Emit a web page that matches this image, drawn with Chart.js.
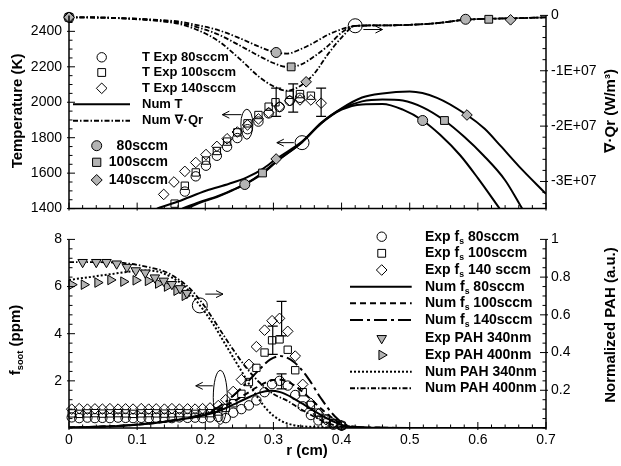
<!DOCTYPE html>
<html lang="en">
<head>
<meta charset="utf-8">
<title>Flame temperature, radiation, soot and PAH profiles</title>
<script src="https://cdn.jsdelivr.net/npm/chart.js@4.4.1/dist/chart.umd.min.js"></script>
<style>
  html, body { margin: 0; padding: 0; background: #fff; }
  #page { position: relative; width: 621px; height: 466px; }
  .panel { position: absolute; left: 0; width: 621px; }
  #upper { top: 0; height: 224px; }
  #lower { top: 224px; height: 242px; }
</style>
</head>
<body>
<div id="page">
  <div class="panel" id="upper"><canvas id="tempChart"></canvas></div>
  <div class="panel" id="lower"><canvas id="sootChart"></canvas></div>
</div>
<script>
const FONT = '"Liberation Sans", Arial, "DejaVu Sans", sans-serif';
const GREY = '#b4b4b4';
const NONE = 'rgba(0,0,0,0)';

// ---------- upper panel: temperature (left) and div of radiative flux (right) ----------
const tExpR80  = [0.170, 0.186, 0.201, 0.217, 0.232, 0.247, 0.262, 0.278, 0.293, 0.309, 0.324, 0.339];
const tExp80   = [1496, 1582, 1642, 1698, 1749, 1798, 1848, 1891, 1937, 1973, 2008, 2025];
const tExpR100 = [0.155, 0.170, 0.186, 0.201, 0.217, 0.232, 0.247, 0.262, 0.278, 0.293, 0.303, 0.324, 0.339, 0.355];
const tExp100  = [1428, 1529, 1604, 1671, 1725, 1778, 1830, 1881, 1928, 1975, 2000, 2042, 2046, 2037];
const tExpR140 = [0.139, 0.154, 0.170, 0.186, 0.201, 0.217, 0.232, 0.247, 0.262, 0.278, 0.293, 0.309, 0.324, 0.339, 0.355, 0.370];
const tExp140  = [1480, 1550, 1610, 1660, 1705, 1751, 1794, 1832, 1872, 1906, 1942, 1975, 2009, 2013, 2013, 1995];

// measurement uncertainty on a few temperature points
const tErrR   = [0.304, 0.329, 0.370];
const tErrMid = [2000, 2024, 2000];
const tErrHalf = [80, 80, 80];

const tNumR80  = [0.172, 0.19, 0.217, 0.24, 0.258, 0.285, 0.305, 0.342, 0.37, 0.40, 0.43, 0.46, 0.49, 0.519, 0.545, 0.574, 0.60, 0.632];
const tNum80   = [1400, 1430, 1465, 1503, 1536, 1600, 1666, 1775, 1880, 1958, 1988, 1990, 1958, 1897, 1815, 1701, 1572, 1400];
const tNumR100 = [0.166, 0.19, 0.217, 0.24, 0.26, 0.284, 0.305, 0.342, 0.37, 0.40, 0.43, 0.46, 0.49, 0.52, 0.551, 0.58, 0.608, 0.64, 0.665];
const tNum100  = [1400, 1435, 1469, 1506, 1541, 1602, 1669, 1775, 1882, 1962, 2005, 2016, 2010, 1970, 1897, 1805, 1701, 1560, 1400];
const tNumR140 = [0.129, 0.16, 0.202, 0.235, 0.261, 0.285, 0.305, 0.342, 0.37, 0.40, 0.43, 0.46, 0.50, 0.54, 0.584, 0.61, 0.633, 0.66, 0.70];
const tNum140  = [1400, 1440, 1502, 1540, 1576, 1626, 1683, 1778, 1884, 1966, 2027, 2050, 2060, 2025, 1928, 1850, 1755, 1640, 1483];

const qrR     = [0, 0.05, 0.1, 0.13, 0.16, 0.19, 0.22, 0.25, 0.28, 0.30, 0.32, 0.34, 0.36, 0.38, 0.40, 0.42, 0.46, 0.50, 0.54, 0.56, 0.58, 0.62, 0.66, 0.70];
const qrNum80  = [-3.5e5, -4e5, -6e5, -8e5, -1.1e6, -1.8e6, -2.7e6, -4.1e6, -5.7e6, -6.6e6, -6.9e6, -6.1e6, -4.9e6, -3.5e6, -2.5e6, -1.9e6, -1.8e6, -1.7e6, -1.4e6, -1.1e6, -8e5, -6e5, -5e5, -3.5e5];
const qrNum100 = [-3.5e5, -4e5, -6.5e5, -9e5, -1.3e6, -2.2e6, -3.5e6, -5.4e6, -7.4e6, -8.6e6, -9.3e6, -8.9e6, -7.4e6, -5.5e6, -3.1e6, -1.9e6, -1.8e6, -1.7e6, -1.4e6, -1.1e6, -8e5, -6e5, -5e5, -3.5e5];
const qrNum140 = [-3.5e5, -4e5, -7e5, -1e6, -1.5e6, -2.7e6, -4.7e6, -7.8e6, -1.12e7, -1.28e7, -1.36e7, -1.27e7, -1.05e7, -7e6, -4e6, -1.9e6, -1.8e6, -1.7e6, -1.4e6, -1.1e6, -8e5, -6e5, -5e5, -3.5e5];

// grey symbols identifying each flow rate on the computed curves
const tTagR80 = [0.258, 0.519],  tTag80 = [1536, 1897];
const tTagR100 = [0.284, 0.551], tTag100 = [1601, 1897];
const tTagR140 = [0.304, 0.584], tTag140 = [1680, 1928];
const qrTagR80 = [0, 0.304, 0.582],  qrTag80 = [-3.5e5, -6.7e6, -7e5];
const qrTagR100 = [0, 0.326, 0.616], qrTag100 = [-3.5e5, -9.3e6, -7e5];
const qrTagR140 = [0, 0.348, 0.648], qrTag140 = [-3.5e5, -1.2e7, -8e5];

const tempTicks = [1400, 1600, 1800, 2000, 2200, 2400];
const qrTicks = [0, -1e7, -2e7, -3e7];
const qrTickLabels = ['0', '-1E+07', '-2E+07', '-3E+07'];

// ---------- lower panel: soot volume fraction (left) and PAH (right) ----------
const fsExpR = [0.004, 0.015, 0.027, 0.038, 0.049, 0.060, 0.072, 0.083, 0.094, 0.106, 0.117, 0.128, 0.140, 0.151, 0.162, 0.174, 0.185, 0.196,
                0.207, 0.219, 0.230, 0.241, 0.253, 0.264, 0.275, 0.287, 0.298, 0.309, 0.321, 0.332, 0.343, 0.355, 0.366, 0.377, 0.388, 0.400];
const fsExp80  = [0.45, 0.42, 0.44, 0.42, 0.43, 0.42, 0.44, 0.43, 0.42, 0.43, 0.42, 0.44, 0.43, 0.42, 0.45, 0.43, 0.44, 0.42,
                  0.45, 0.47, 0.42, 0.65, 0.80, 0.96, 1.17, 1.52, 1.86, 2.00, 1.80, 1.40, 0.92, 0.55, 0.32, 0.20, 0.14, 0.10];
const fsExp100 = [0.62, 0.60, 0.62, 0.63, 0.61, 0.62, 0.63, 0.62, 0.60, 0.62, 0.63, 0.62, 0.61, 0.62, 0.63, 0.62, 0.60, 0.62,
                  0.63, 0.70, 0.85, 1.05, 1.45, 1.95, 2.55, 3.20, 3.72, 3.76, 3.32, 2.45, 1.52, 0.98, 0.65, 0.40, 0.20, 0.10];
const fsExp140 = [0.80, 0.82, 0.80, 0.81, 0.80, 0.82, 0.80, 0.81, 0.80, 0.82, 0.80, 0.81, 0.80, 0.82, 0.80, 0.81, 0.80, 0.82,
                  0.85, 0.95, 1.20, 1.55, 2.05, 2.70, 3.45, 4.15, 4.55, 4.65, 4.10, 3.05, 1.85, 1.05, 0.60, 0.35, 0.20, 0.10];

const fsErrR    = [0.299, 0.312, 0.312];
const fsErrMid  = [3.72, 4.64, 1.98];
const fsErrHalf = [0.60, 0.73, 0.32];

const fsNumR   = [0, 0.05, 0.1, 0.15, 0.2, 0.22, 0.24, 0.26, 0.28, 0.295, 0.31, 0.33, 0.35, 0.37, 0.39, 0.41, 0.45, 0.5, 0.7];
const fsNum80  = [0.02, 0.06, 0.14, 0.30, 0.55, 0.72, 0.98, 1.25, 1.50, 1.58, 1.52, 1.25, 0.90, 0.55, 0.25, 0.05, 0.01, 0, 0];
const fsNum100 = [0.02, 0.06, 0.14, 0.30, 0.58, 0.80, 1.10, 1.45, 1.80, 2.00, 2.05, 1.82, 1.35, 0.82, 0.35, 0.07, 0.01, 0, 0];
const fsNum140 = [0.02, 0.06, 0.15, 0.32, 0.62, 0.90, 1.35, 1.90, 2.50, 2.90, 3.05, 2.80, 2.15, 1.25, 0.50, 0.10, 0.02, 0, 0];

const pahExpR340 = [0.020, 0.040, 0.055, 0.070, 0.085, 0.098, 0.112, 0.126, 0.139, 0.151, 0.163, 0.173];
const pahExp340  = [0.879, 0.879, 0.879, 0.871, 0.853, 0.835, 0.823, 0.797, 0.780, 0.762, 0.740, 0.715];
const pahExpR400 = [0.004, 0.022, 0.042, 0.061, 0.080, 0.098, 0.116, 0.131, 0.144, 0.158, 0.170];
const pahExp400  = [0.760, 0.760, 0.771, 0.785, 0.776, 0.783, 0.780, 0.766, 0.750, 0.728, 0.701];

const pahNumR340 = [0, 0.03, 0.06, 0.09, 0.11, 0.13, 0.15, 0.17, 0.19, 0.21, 0.23, 0.25, 0.27, 0.29, 0.31, 0.33, 0.36, 0.40, 0.45, 0.70];
const pahNum340  = [0.785, 0.80, 0.815, 0.83, 0.835, 0.83, 0.80, 0.75, 0.66, 0.56, 0.44, 0.32, 0.20, 0.10, 0.04, 0.015, 0.005, 0.002, 0, 0];
const pahNumR400 = [0, 0.03, 0.06, 0.08, 0.10, 0.12, 0.14, 0.16, 0.18, 0.20, 0.22, 0.24, 0.26, 0.28, 0.30, 0.32, 0.34, 0.36, 0.38, 0.40, 0.45, 0.70];
const pahNum400  = [0.88, 0.88, 0.878, 0.875, 0.865, 0.85, 0.83, 0.79, 0.73, 0.64, 0.53, 0.42, 0.32, 0.24, 0.18, 0.145, 0.10, 0.06, 0.025, 0.007, 0, 0];

const rTicks = [0, 0.1, 0.2, 0.3, 0.4, 0.5, 0.6, 0.7];
const rTickLabels = ['0', '0.1', '0.2', '0.3', '0.4', '0.5', '0.6', '0.7'];
const fsTicks = [2, 4, 6, 8];
const fsTickLabels = ['2', '4', '6', '8'];
const pahTicks = [0.2, 0.4, 0.6, 0.8, 1];
const pahTickLabels = ['0.2', '0.4', '0.6', '0.8', '1'];

// ---------- helpers ----------
Chart.defaults.font.family = FONT;
Chart.defaults.color = '#000';

function pts(xs, ys) {
  return xs.map((x, i) => ({ x: x, y: ys[i] }));
}

function curve(xs, ys, axis, dash, width) {
  return {
    data: pts(xs, ys), yAxisID: axis, showLine: true, borderColor: '#000',
    borderWidth: width || 2, borderDash: dash || [], pointRadius: 0,
    cubicInterpolationMode: 'monotone', fill: false
  };
}

function marks(xs, ys, axis, style, radius, fill, rotation) {
  return {
    data: pts(xs, ys), yAxisID: axis, showLine: false, pointStyle: style,
    pointRadius: radius, pointBackgroundColor: fill, pointBorderColor: '#000',
    pointBorderWidth: 1, pointRotation: rotation || 0, clip: 12
  };
}

function valueScale(pos, min, max, vals, labels, width, pad) {
  return {
    type: 'linear', position: pos, min: min, max: max,
    grid: { display: false, drawTicks: false },
    border: { display: false },
    afterBuildTicks: s => { s.ticks = vals.map(v => ({ value: v })); },
    afterFit: s => { s.width = width; },
    ticks: {
      autoSkip: false, padding: pad, color: '#000', font: { size: 14 },
      callback: v => { const i = vals.findIndex(t => Math.abs(t - v) < 1e-9 * (Math.abs(t) + 1)); return i < 0 ? '' : labels[i]; }
    }
  };
}

function richWidth(ctx, parts, size) {
  let w = 0;
  parts.forEach(p => {
    ctx.font = 'bold ' + (p.sub ? size * 0.62 : size) + 'px ' + FONT;
    w += ctx.measureText(p.t).width;
  });
  return w;
}

function drawRich(ctx, parts, x, y, size) {
  let cx = x;
  ctx.textAlign = 'left';
  ctx.textBaseline = 'middle';
  parts.forEach(p => {
    ctx.font = 'bold ' + (p.sub ? size * 0.62 : size) + 'px ' + FONT;
    ctx.fillText(p.t, cx, p.sub ? y + size * 0.32 : y);
    cx += ctx.measureText(p.t).width;
  });
}

function drawMarker(ctx, kind, x, y, r, fill) {
  ctx.beginPath();
  if (kind === 'circle') {
    ctx.arc(x, y, r, 0, Math.PI * 2);
  } else if (kind === 'rect') {
    const s = r * 0.75;
    ctx.rect(x - s, y - s, 2 * s, 2 * s);
  } else if (kind === 'diamond') {
    ctx.moveTo(x, y - r); ctx.lineTo(x + r, y); ctx.lineTo(x, y + r); ctx.lineTo(x - r, y); ctx.closePath();
  } else if (kind === 'triDown') {
    ctx.moveTo(x - r * 0.87, y - r * 0.5); ctx.lineTo(x + r * 0.87, y - r * 0.5); ctx.lineTo(x, y + r); ctx.closePath();
  } else if (kind === 'triRight') {
    ctx.moveTo(x - r * 0.5, y - r * 0.87); ctx.lineTo(x + r, y); ctx.lineTo(x - r * 0.5, y + r * 0.87); ctx.closePath();
  }
  if (fill) { ctx.fillStyle = fill; ctx.fill(); }
  ctx.lineWidth = 1;
  ctx.strokeStyle = '#000';
  ctx.stroke();
}

function arrow(ctx, x1, y, x2) {
  const dir = x2 > x1 ? 1 : -1;
  ctx.beginPath();
  ctx.moveTo(x1, y); ctx.lineTo(x2, y);
  ctx.moveTo(x2 - dir * 7, y - 3.5); ctx.lineTo(x2, y); ctx.lineTo(x2 - dir * 7, y + 3.5);
  ctx.stroke();
}

// frame, inward ticks, titles, legend, error bars and call-outs for one panel
function makeDecor(cfg) {
  return {
    id: 'panelDecor',
    afterDatasetsDraw(chart) {
      const ctx = chart.ctx, a = chart.chartArea, xs = chart.scales.x;
      ctx.save();
      ctx.strokeStyle = '#000';
      ctx.fillStyle = '#000';

      // error bars
      cfg.errorBars.forEach(eb => {
        const ys = chart.scales[eb.axis];
        ctx.lineWidth = 1.2;
        eb.r.forEach((r, i) => {
          const px = xs.getPixelForValue(r);
          const y1 = ys.getPixelForValue(eb.mid[i] - eb.half[i]);
          const y2 = ys.getPixelForValue(eb.mid[i] + eb.half[i]);
          ctx.beginPath();
          ctx.moveTo(px, y1); ctx.lineTo(px, y2);
          ctx.moveTo(px - 5, y1); ctx.lineTo(px + 5, y1);
          ctx.moveTo(px - 5, y2); ctx.lineTo(px + 5, y2);
          ctx.stroke();
        });
      });

      // call-outs: ellipses / circles with arrows pointing to the relevant axis
      ctx.lineWidth = 1;
      cfg.notes.forEach(n => {
        const ys = chart.scales[n.axis];
        if (n.type === 'arrow') {
          arrow(ctx, xs.getPixelForValue(n.x1), ys.getPixelForValue(n.y), xs.getPixelForValue(n.x2));
        } else {
          ctx.beginPath();
          ctx.ellipse(xs.getPixelForValue(n.x), ys.getPixelForValue(n.y), n.rx, n.ry, 0, 0, Math.PI * 2);
          ctx.stroke();
        }
      });

      // axis frame (no top border)
      ctx.lineWidth = 1.5;
      ctx.beginPath();
      ctx.moveTo(a.left, a.top); ctx.lineTo(a.left, a.bottom); ctx.lineTo(a.right, a.bottom); ctx.lineTo(a.right, a.top);
      ctx.stroke();

      // inward major / minor ticks
      ctx.lineWidth = 1;
      cfg.ticks.forEach(t => {
        const s = chart.scales[t.axis];
        const n = Math.round((t.to - t.from) / t.step);
        for (let i = 0; i <= n; i++) {
          const v = t.from + i * t.step;
          const major = t.major.some(m => Math.abs(m - v) < t.step / 10);
          const len = major ? 6 : 3.5, out = major ? 2 : 0;
          const p = s.getPixelForValue(v);
          ctx.beginPath();
          if (t.side === 'bottom') { ctx.moveTo(p, a.bottom + out); ctx.lineTo(p, a.bottom - len); }
          else if (t.side === 'left') { ctx.moveTo(a.left - out, p); ctx.lineTo(a.left + len, p); }
          else { ctx.moveTo(a.right + out, p); ctx.lineTo(a.right - len, p); }
          ctx.stroke();
        }
      });

      // axis titles
      ctx.fillStyle = '#000';
      cfg.titles.forEach(t => {
        const w = richWidth(ctx, t.parts, t.size);
        ctx.save();
        ctx.translate(t.x, t.y);
        if (t.rotate) ctx.rotate(-Math.PI / 2);
        drawRich(ctx, t.parts, -w / 2, 0, t.size);
        ctx.restore();
      });

      // legend rows
      cfg.legend.forEach(row => {
        if (row.mark) drawMarker(ctx, row.mark, row.mx, row.y, row.mr, row.fill);
        if (row.line) {
          ctx.save();
          ctx.lineWidth = 2;
          ctx.strokeStyle = '#000';
          ctx.setLineDash(row.line);
          ctx.beginPath();
          ctx.moveTo(row.lx1, row.y); ctx.lineTo(row.lx2, row.y);
          ctx.stroke();
          ctx.restore();
        }
        ctx.fillStyle = '#000';
        if (row.align === 'right') {
          const w = richWidth(ctx, row.parts, row.size);
          drawRich(ctx, row.parts, row.tx - w, row.y, row.size);
        } else {
          drawRich(ctx, row.parts, row.tx, row.y, row.size);
        }
      });
      ctx.restore();
    }
  };
}

const DASH_QR = [5, 2, 1.5, 2];
const DASH_FS100 = [6, 4];
const DASH_FS140 = [13, 4, 3, 4];
const DOT_PAH340 = [2, 2];
const DASH_PAH400 = [5, 2, 1.5, 2];

// ---------- upper chart ----------
const upperDecor = {
  errorBars: [{ axis: 'yT', r: tErrR, mid: tErrMid, half: tErrHalf }],
  notes: [
    { type: 'ellipse', axis: 'yT', x: 0.261, y: 1876, rx: 6, ry: 15 },
    { type: 'arrow', axis: 'yT', x1: 0.253, x2: 0.225, y: 1930 },
    { type: 'ellipse', axis: 'yT', x: 0.342, y: 1772, rx: 7, ry: 7 },
    { type: 'arrow', axis: 'yT', x1: 0.330, x2: 0.305, y: 1772 },
    { type: 'ellipse', axis: 'yQ', x: 0.42, y: -1.87e6, rx: 7, ry: 7 },
    { type: 'arrow', axis: 'yQ', x1: 0.432, x2: 0.460, y: -2.55e6 }
  ],
  ticks: [
    { axis: 'x', side: 'bottom', from: 0, to: 0.7, step: 0.02, major: rTicks },
    { axis: 'yT', side: 'left', from: 1400, to: 2450, step: 50, major: tempTicks },
    { axis: 'yQ', side: 'right', from: -3.4e7, to: 0, step: 2e6, major: qrTicks }
  ],
  titles: [
    { parts: [{ t: 'Temperature (K)' }], x: 18, y: 111, size: 15, rotate: true },
    { parts: [{ t: '\u2207\u00b7Qr (W/m\u00b3)' }], x: 611, y: 111, size: 15, rotate: true }
  ],
  legend: [
    { mark: 'circle', mx: 101.7, mr: 4.7, y: 57.3, parts: [{ t: 'T Exp 80sccm' }], tx: 142, size: 13 },
    { mark: 'rect', mx: 101.7, mr: 5.2, y: 72.5, parts: [{ t: 'T Exp 100sccm' }], tx: 142, size: 13 },
    { mark: 'diamond', mx: 101.7, mr: 5.3, y: 88.3, parts: [{ t: 'T Exp 140sccm' }], tx: 142, size: 13 },
    { line: [], lx1: 73, lx2: 130, y: 104.3, parts: [{ t: 'Num T' }], tx: 142, size: 13 },
    { line: DASH_QR, lx1: 73, lx2: 130, y: 120.7, parts: [{ t: 'Num \u2207\u00b7Qr' }], tx: 142, size: 13 },
    { mark: 'circle', mx: 96.7, mr: 5, fill: GREY, y: 145.7, parts: [{ t: '80sccm' }], tx: 168, align: 'right', size: 14 },
    { mark: 'rect', mx: 96.7, mr: 5.5, fill: GREY, y: 162.3, parts: [{ t: '100sccm' }], tx: 168, align: 'right', size: 14 },
    { mark: 'diamond', mx: 96.7, mr: 5.5, fill: GREY, y: 180, parts: [{ t: '140sccm' }], tx: 168, align: 'right', size: 14 }
  ]
};

new Chart(document.getElementById('tempChart'), {
  type: 'scatter',
  data: {
    datasets: [
      marks(tTagR80, tTag80, 'yT', 'circle', 5, GREY),
      marks(tTagR100, tTag100, 'yT', 'rect', 5.5, GREY),
      marks(tTagR140, tTag140, 'yT', 'rectRot', 5.3, GREY),
      marks(qrTagR140, qrTag140, 'yQ', 'rectRot', 5.3, GREY),
      marks(qrTagR100, qrTag100, 'yQ', 'rect', 5.5, GREY),
      marks(qrTagR80, qrTag80, 'yQ', 'circle', 5, GREY),
      marks(tExpR80, tExp80, 'yT', 'circle', 4.7, NONE),
      marks(tExpR100, tExp100, 'yT', 'rect', 5.2, NONE),
      marks(tExpR140, tExp140, 'yT', 'rectRot', 5.3, NONE),
      curve(tNumR80, tNum80, 'yT', [], 2),
      curve(tNumR100, tNum100, 'yT', [], 2),
      curve(tNumR140, tNum140, 'yT', [], 2),
      curve(qrR, qrNum80, 'yQ', DASH_QR, 1.8),
      curve(qrR, qrNum100, 'yQ', DASH_QR, 1.8),
      curve(qrR, qrNum140, 'yQ', DASH_QR, 1.8)
    ]
  },
  options: {
    responsive: true,
    maintainAspectRatio: false,
    animation: false,
    events: [],
    layout: { padding: { top: 12, left: 0, right: 0, bottom: 0 } },
    plugins: { legend: { display: false }, tooltip: { enabled: false } },
    scales: {
      x: {
        type: 'linear', position: 'bottom', min: 0, max: 0.7,
        grid: { display: false, drawTicks: false }, border: { display: false },
        ticks: { display: false },
        afterFit: s => { s.height = 12; }
      },
      yT: valueScale('left', 1400, 2490, tempTicks, tempTicks.map(String), 69, 7),
      yQ: valueScale('right', -3.49e7, 0, qrTicks, qrTickLabels, 75, 5)
    }
  },
  plugins: [makeDecor(upperDecor)]
});

// ---------- lower chart ----------
const fsSub = (a, b) => [{ t: a + ' f' }, { t: 's', sub: true }, { t: b }];
const LX = 381.7, LT = 425;
const lowerDecor = {
  errorBars: [{ axis: 'yF', r: fsErrR, mid: fsErrMid, half: fsErrHalf }],
  notes: [
    { type: 'ellipse', axis: 'yP', x: 0.192, y: 0.65, rx: 7.5, ry: 7.5 },
    { type: 'arrow', axis: 'yP', x1: 0.200, x2: 0.226, y: 0.71 },
    { type: 'ellipse', axis: 'yF', x: 0.222, y: 1.3, rx: 7, ry: 27 },
    { type: 'arrow', axis: 'yF', x1: 0.211, x2: 0.186, y: 1.79 }
  ],
  ticks: [
    { axis: 'x', side: 'bottom', from: 0, to: 0.7, step: 0.02, major: rTicks },
    { axis: 'yF', side: 'left', from: 0, to: 8, step: 0.4, major: fsTicks },
    { axis: 'yP', side: 'right', from: 0, to: 1, step: 0.05, major: pahTicks }
  ],
  titles: [
    { parts: [{ t: 'f' }, { t: 'soot', sub: true }, { t: ' (ppm)' }], x: 16, y: 116, size: 15, rotate: true },
    { parts: [{ t: 'Normalized PAH (a.u.)' }], x: 611, y: 101, size: 15, rotate: true },
    { parts: [{ t: 'r (cm)' }], x: 307, y: 227, size: 15, rotate: false }
  ],
  legend: [
    { mark: 'circle', mx: LX, mr: 4.7, y: 12.7, parts: fsSub('Exp', ' 80sccm'), tx: LT, size: 14 },
    { mark: 'rect', mx: LX, mr: 5.2, y: 29.3, parts: fsSub('Exp', ' 100sccm'), tx: LT, size: 14 },
    { mark: 'diamond', mx: LX, mr: 5.3, y: 46, parts: fsSub('Exp', ' 140 sccm'), tx: LT, size: 14 },
    { line: [], lx1: 350, lx2: 411.7, y: 62.7, parts: fsSub('Num', ' 80sccm'), tx: LT, size: 14 },
    { line: DASH_FS100, lx1: 350, lx2: 411.7, y: 79.3, parts: fsSub('Num', ' 100sccm'), tx: LT, size: 14 },
    { line: DASH_FS140, lx1: 350, lx2: 411.7, y: 96, parts: fsSub('Num', ' 140sccm'), tx: LT, size: 14 },
    { mark: 'triDown', mx: LX, mr: 5.5, fill: GREY, y: 114.3, parts: [{ t: 'Exp PAH 340nm' }], tx: LT, size: 14 },
    { mark: 'triRight', mx: LX, mr: 5.5, fill: GREY, y: 131, parts: [{ t: 'Exp PAH 400nm' }], tx: LT, size: 14 },
    { line: DOT_PAH340, lx1: 350, lx2: 411.7, y: 147.7, parts: [{ t: 'Num PAH 340nm' }], tx: LT, size: 14 },
    { line: DASH_PAH400, lx1: 350, lx2: 411.7, y: 164.3, parts: [{ t: 'Num PAH 400nm' }], tx: LT, size: 14 }
  ]
};

new Chart(document.getElementById('sootChart'), {
  type: 'scatter',
  data: {
    datasets: [
      marks(fsExpR, fsExp80, 'yF', 'circle', 4.7, NONE),
      marks(fsExpR, fsExp100, 'yF', 'rect', 5.2, NONE),
      marks(fsExpR, fsExp140, 'yF', 'rectRot', 5.3, NONE),
      marks(pahExpR340, pahExp340, 'yP', 'triangle', 5.5, GREY, 180),
      marks(pahExpR400, pahExp400, 'yP', 'triangle', 5.5, GREY, 90),
      curve(fsNumR, fsNum80, 'yF', [], 2),
      curve(fsNumR, fsNum100, 'yF', DASH_FS100, 2),
      curve(fsNumR, fsNum140, 'yF', DASH_FS140, 2),
      curve(pahNumR340, pahNum340, 'yP', DOT_PAH340, 2),
      curve(pahNumR400, pahNum400, 'yP', DASH_PAH400, 1.8)
    ]
  },
  options: {
    responsive: true,
    maintainAspectRatio: false,
    animation: false,
    events: [],
    layout: { padding: { top: 12, left: 0, right: 0, bottom: 0 } },
    plugins: { legend: { display: false }, tooltip: { enabled: false } },
    scales: {
      x: {
        type: 'linear', position: 'bottom', min: 0, max: 0.7,
        grid: { display: false, drawTicks: false }, border: { display: false },
        afterBuildTicks: s => { s.ticks = rTicks.map(v => ({ value: v })); },
        afterFit: s => { s.height = 38; },
        ticks: {
          autoSkip: false, maxRotation: 0, padding: 4, color: '#000', font: { size: 14 },
          callback: v => { const i = rTicks.findIndex(t => Math.abs(t - v) < 1e-9); return i < 0 ? '' : rTickLabels[i]; }
        }
      },
      yF: valueScale('left', 0, 8, fsTicks, fsTickLabels, 69, 7),
      yP: valueScale('right', 0, 1, pahTicks, pahTickLabels, 75, 5)
    }
  },
  plugins: [makeDecor(lowerDecor)]
});
</script>
</body>
</html>
